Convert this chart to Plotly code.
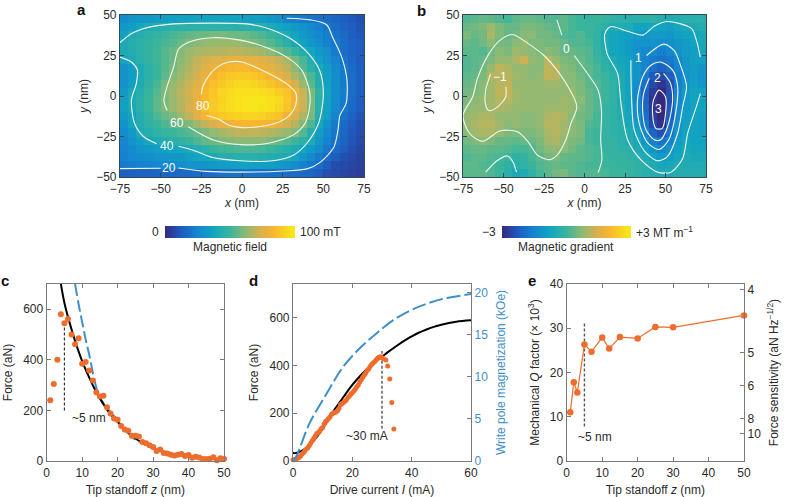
import plotly.graph_objects as go

W, H = 788, 497
TXT = "#2b2a2a"
FONT = "Liberation Sans"
ORANGE = "#ee6c2c"
BLUE = "#3f8fc9"
FRAME_TOP = "#2f4a55"
FRAME_BOT = "#7a7a7a"

PARULA = [[0, "#35297f"], [.125, "#1f5bbf"], [.25, "#1585d0"], [.375, "#12a5c0"], [.5, "#3ab59b"],
          [.625, "#8fba74"], [.74, "#dcb04c"], [.83, "#f9b530"], [.93, "#f8d820"], [1, "#f9ea1a"]]

grid_x = [-72.5, -67.5, -62.5, -57.5, -52.5, -47.5, -42.5, -37.5, -32.5, -27.5, -22.5, -17.5, -12.5, -7.5, -2.5,
          2.5, 7.5, 12.5, 17.5, 22.5, 27.5, 32.5, 37.5, 42.5, 47.5, 52.5, 57.5, 62.5, 67.5, 72.5]
grid_y = [47.5, 42.5, 37.5, 32.5, 27.5, 22.5, 17.5, 12.5, 7.5, 2.5, -2.5, -7.5, -12.5, -17.5, -22.5, -27.5, -32.5,
          -37.5, -42.5, -47.5]

field_mT = [
    [28, 30, 32, 33, 34, 35, 35, 36, 36, 37, 37, 37, 37, 37, 37, 36, 35, 34, 32, 30, 25, 23, 21, 20, 19, 18, 16, 14, 12, 10],
    [32, 34, 38, 41, 43, 44, 45, 46, 46, 46, 46, 46, 46, 46, 45, 45, 44, 43, 41, 38, 36, 33, 30, 27, 24, 21, 18, 15, 13, 11],
    [36, 41, 44, 46, 48, 50, 52, 54, 56, 57, 58, 59, 59, 58, 58, 57, 55, 53, 50, 46, 41, 37, 33, 29, 26, 23, 20, 17, 14, 12],
    [41, 44, 46, 48, 50, 52, 54, 57, 60, 62, 63, 64, 64, 64, 64, 62, 60, 57, 54, 50, 45, 40, 36, 32, 28, 24, 21, 18, 15, 13],
    [41, 43, 46, 48, 51, 54, 57, 61, 64, 66, 67, 68, 68, 69, 69, 68, 67, 65, 62, 58, 54, 49, 43, 38, 33, 29, 22, 18, 15, 13],
    [37, 41, 45, 48, 51, 54, 58, 62, 66, 70, 73, 75, 76, 77, 78, 78, 77, 76, 73, 70, 66, 59, 52, 43, 36, 31, 25, 20, 16, 13],
    [30, 34, 41, 46, 50, 54, 59, 63, 67, 71, 75, 79, 81, 83, 84, 84, 82, 79, 77, 73, 69, 62, 54, 46, 40, 34, 27, 21, 17, 14],
    [30, 34, 41, 46, 50, 55, 61, 65, 69, 73, 78, 83, 86, 88, 89, 89, 88, 85, 82, 78, 73, 67, 61, 53, 43, 35, 28, 22, 18, 14],
    [30, 35, 42, 47, 52, 59, 63, 67, 71, 76, 81, 86, 89, 91, 93, 93, 92, 90, 87, 84, 81, 73, 64, 55, 44, 36, 28, 22, 18, 14],
    [33, 40, 44, 49, 54, 60, 65, 69, 73, 78, 84, 88, 92, 94, 96, 96, 96, 95, 93, 90, 87, 81, 71, 60, 47, 37, 28, 23, 18, 14],
    [36, 41, 45, 50, 55, 60, 64, 68, 72, 78, 84, 88, 91, 95, 97, 98, 98, 98, 97, 93, 88, 81, 72, 60, 45, 36, 28, 22, 17, 13],
    [36, 40, 45, 50, 55, 60, 64, 68, 73, 78, 85, 89, 92, 95, 97, 98, 98, 97, 96, 92, 87, 80, 71, 60, 45, 36, 27, 21, 17, 13],
    [33, 37, 43, 48, 53, 57, 60, 65, 70, 76, 82, 86, 88, 90, 91, 92, 92, 91, 89, 86, 80, 74, 67, 59, 43, 34, 25, 19, 15, 11],
    [30, 38, 43, 47, 50, 53, 56, 58, 60, 65, 70, 74, 77, 80, 82, 83, 83, 82, 81, 77, 73, 68, 61, 53, 40, 30, 22, 17, 13, 10],
    [28, 33, 41, 44, 47, 49, 50, 52, 54, 57, 60, 63, 66, 68, 70, 70, 70, 69, 68, 66, 64, 61, 54, 44, 34, 27, 21, 16, 12, 9],
    [26, 30, 35, 39, 42, 44, 45, 47, 50, 53, 56, 58, 60, 61, 62, 62, 62, 62, 60, 57, 54, 50, 46, 41, 32, 25, 20, 15, 11, 8],
    [25, 28, 31, 33, 35, 36, 37, 38, 40, 43, 46, 49, 51, 52, 53, 53, 53, 52, 50, 48, 45, 42, 38, 33, 28, 21, 17, 13, 10, 7],
    [24, 26, 28, 29, 30, 31, 32, 33, 35, 37, 38, 40, 43, 44, 45, 45, 45, 44, 43, 42, 41, 37, 32, 27, 22, 17, 13, 10, 8, 6],
    [22, 23, 24, 25, 26, 27, 28, 29, 30, 31, 32, 33, 34, 35, 36, 36, 36, 35, 34, 33, 31, 27, 24, 21, 18, 13, 9, 8, 7, 6],
    [14, 14, 15, 15, 16, 16, 16, 17, 17, 18, 18, 18, 19, 19, 19, 19, 19, 19, 19, 19, 18, 18, 17, 16, 13, 10, 8, 7, 6, 5],
]

gradient_tenths = [
    [2, 3, 4, 3, 2, 1, 3, 4, 4, 3, 2, 2, 3, 1, 0, -1, 0, -1, -2, -3, -3, -3, -3, -2, -4, -5, -4, -3, -3, -3],
    [4, 5, 6, 9, 6, 4, 4, 6, 6, 5, 4, 3, 3, 1, 0, 0, -1, -3, -5, -5, -5, -8, -8, -7, -8, -9, -7, -6, -5, -4],
    [6, 4, 5, 10, 6, 4, 5, 7, 7, 5, 5, 4, 2, 1, 2, 0, -2, -5, -7, -8, -9, -10, -11, -10, -10, -11, -9, -8, -7, -6],
    [4, 3, 5, 7, 5, 5, 7, 8, 6, 6, 5, 5, 4, 2, 2, 1, -2, -5, -7, -8, -10, -12, -12, -12, -13, -13, -11, -10, -8, -6],
    [3, 3, 2, 5, 7, 6, 9, 8, 7, 6, 7, 6, 4, 4, 3, 2, -1, -4, -7, -8, -10, -12, -14, -14, -16, -14, -12, -10, -9, -7],
    [2, 3, 4, 6, 8, 8, 10, 13, 8, 7, 11, 8, 6, 5, 4, 2, 0, -3, -5, -7, -9, -12, -15, -17, -18, -17, -14, -11, -9, -9],
    [2, 3, 5, 8, 12, 10, 8, 8, 7, 7, 12, 11, 7, 6, 4, 3, 1, -2, -4, -6, -8, -11, -15, -19, -21, -19, -15, -11, -10, -11],
    [3, 4, 6, 11, 11, 11, 9, 8, 7, 8, 12, 11, 7, 7, 5, 3, 1, 0, -3, -5, -8, -11, -17, -23, -25, -22, -16, -12, -10, -12],
    [4, 5, 7, 9, 11, 12, 8, 8, 8, 8, 9, 9, 8, 7, 6, 3, 2, 0, -2, -5, -8, -13, -19, -25, -28, -24, -16, -11, -9, -11],
    [5, 6, 7, 9, 12, 12, 9, 8, 8, 8, 8, 8, 8, 8, 6, 4, 2, 0, -2, -5, -8, -14, -21, -27, -30, -24, -15, -10, -8, -8],
    [6, 7, 8, 9, 11, 11, 9, 8, 8, 8, 8, 8, 9, 8, 7, 4, 2, 0, -2, -5, -8, -14, -21, -28, -30, -24, -14, -10, -8, -8],
    [7, 8, 8, 9, 10, 9, 8, 8, 8, 8, 9, 9, 9, 8, 6, 4, 2, -1, -2, -4, -8, -13, -20, -28, -30, -23, -14, -10, -8, -8],
    [8, 9, 10, 10, 8, 8, 8, 7, 7, 8, 10, 11, 10, 7, 5, 4, 1, -1, -2, -4, -7, -12, -19, -27, -30, -22, -13, -9, -8, -9],
    [8, 10, 11, 11, 9, 7, 8, 7, 7, 8, 11, 11, 9, 7, 6, 2, 1, -1, -2, -3, -6, -10, -17, -25, -29, -20, -12, -8, -8, -9],
    [7, 9, 10, 10, 8, 6, 6, 6, 6, 7, 10, 11, 9, 7, 6, 1, 0, -1, -2, -3, -5, -8, -14, -21, -24, -18, -11, -8, -8, -9],
    [5, 6, 7, 6, 4, 4, 3, 4, 4, 6, 9, 10, 8, 6, 5, 1, 0, -1, -1, -3, -4, -6, -11, -16, -18, -15, -10, -7, -8, -8],
    [3, 4, 4, 3, 3, 2, 1, 1, 2, 5, 7, 8, 7, 5, 3, 2, 1, -1, -1, -2, -3, -5, -8, -12, -14, -12, -8, -6, -7, -7],
    [2, 3, 3, 2, 1, 0, -2, -1, 1, 3, 5, 6, 4, 3, 3, 2, 1, 0, -1, -1, -2, -3, -5, -8, -10, -9, -7, -5, -6, -6],
    [3, 3, 2, 1, 0, -2, -3, -2, 0, 2, 3, 4, 3, 3, 2, 1, 1, 0, 0, -1, -1, -2, -3, -5, -7, -6, -5, -5, -5, -5],
    [3, 3, 3, 2, 0, -3, -6, -5, -2, 1, 3, 5, 6, 3, 2, 2, 2, 1, 0, 0, -1, -2, -3, -4, -5, -5, -4, -4, -4, -4],
]

contours_a = [
    [(-25, 1), (-24, 6), (-20, 13), (-15, 18), (-8, 21), (0, 21), (10, 17), (20, 12), (28, 7), (33, 2), (33.5, -3), (32, -8), (28, -13), (20, -17), (10, -19), (0, -19.5), (-8, -18), (-15, -14), (-22, -12)],
    [(-46, -9), (-48, -3), (-46, 6), (-42, 18), (-39, 29), (-32, 33.5), (-18, 36), (-1, 34.5), (15, 30), (27.5, 24), (36.7, 16), (41.4, 3.6), (41.8, -4.6), (38.7, -17), (31.6, -24), (17, -29), (-1, -30), (-18, -27), (-33, -19)],
    [(-75, 33), (-67, 39), (-57, 42.5), (-42, 44.5), (-18, 45), (3, 44.5), (15, 42), (29.5, 35.6), (41, 26), (48, 15), (50, 0), (47, -17), (40, -29), (31.5, -36.6), (19, -40), (-1, -40), (-18, -38), (-30, -33.5), (-39, -31)],
    [(-52.5, -29.4), (-60.6, -25), (-66, -17), (-68, -2.6), (-65, 7.7), (-64.3, 16), (-68, 21), (-75, 24)],
    [(-75, -44.8), (-50, -44.6)],
    [(-39, -44.4), (-22, -46.5), (-1, -47), (25.5, -46.3), (40, -45), (48, -41), (56.5, -31.5), (59, -21), (60.2, -12), (64, -4.6), (64.5, 10), (61.3, 24), (56, 35.6), (52, 44), (42, 47), (27.5, 48)],
]
contours_b = [
    [(-17, 47), (-14, 37.6)],
    [(-6.4, 25), (4, 10.8), (8.4, 3.6), (10.5, -8.8), (10, -27), (10.7, -39.6), (8.4, -47.3)],
    [(-75, -12), (-69, -0.5), (-66, 11), (-59, 26), (-52, 34.5), (-44.5, 38), (-35, 32.5), (-25, 25), (-17, 16), (-8.4, 2.6), (-4.7, -6.7), (-8.4, -17), (-11.5, -27), (-17, -36.6), (-22, -39.3), (-29, -36.6), (-35, -28), (-41.4, -22), (-52, -21.5), (-63, -28), (-71, -23), (-75, -12)],
    [(-58, 13.5), (-61, 3.6), (-61, -5.7), (-59, -9), (-54, -7), (-48.6, -0.5), (-48.6, 5.7)],
    [(-61, -47), (-54, -40), (-47.6, -37), (-44, -41), (-42, -47)],
    [(71.5, 24), (69, 34.6), (66, 41.7), (51, 46), (43, 43), (36, 37.6), (26.6, 40), (16, 42.8), (12.6, 38.7), (14, 26), (20.4, 14), (22.5, -4.6), (26.6, -27), (35, -39.6), (45, -47), (53.4, -47), (60.6, -38.6), (63.7, -23), (69, -6.7), (71.5, 1.5)],
    [(38.3, 25), (49, 32), (55.4, 28), (59.6, 18), (63, 6), (60.6, -6.7), (57.5, -23), (51, -37.6), (45, -40), (37, -34), (30.7, -21), (29, -0.5), (28.6, 22)],
    [(47, 21), (54.4, 16), (57.5, 6), (56.5, -9), (52, -27), (46, -33), (39, -29), (33.8, -17), (32.7, -2.6), (36, 12), (41, 19), (47, 21)],
    [(48.8, 14), (53, 8), (54.4, -2.6), (51.3, -19), (47, -27), (43, -27), (38, -21), (36, -11), (36.5, 1.5), (40, 11)],
    [(46, 3.6), (50, -0.5), (50, -11), (48, -20), (44, -20), (42, -11), (42.6, -2.6), (46, 3.6)],
]
labels_a = [("80", -24.2, -6), ("60", -40, -16.6), ("40", -46, -31), ("20", -45, -44.5)]
labels_b = [("0", -11, 29), ("1", 33.4, 23.6), ("2", 45, 11), ("3", 45.5, -8), ("−1", -52, 11.5)]

c_z = list(range(1, 51))
c_force = [240, 305, 400, 580, 545, 562, 500, 462, 485, 385, 392, 358, 318, 272, 255, 258, 213, 188, 168, 163, 138, 125, 120, 100, 100,
           97, 75, 70, 62, 55, 40, 45, 32, 30, 25, 22, 25, 28, 20, 24, 13, 17, 14, 8, 8, 9, 15, 3, 11, 8]
c_black_z = [4, 5, 6, 8, 10, 12, 14, 16, 18, 20, 22, 24, 26, 28, 30, 32, 34, 36]
c_black_f = [700, 625, 570, 475, 395, 330, 272, 225, 185, 155, 125, 100, 80, 65, 50, 40, 32, 26]
c_blue_z = [8, 9, 10, 11, 12, 13, 14, 15, 20, 23, 26]
c_blue_f = [700, 620, 550, 480, 420, 350, 290, 250, 160, 110, 72]

d_i = [0, .5, 1, 1.5, 2, 2.5, 3, 3.5, 4, 4.5, 5, 5.5, 6, 6.5, 7, 7.5, 8, 8.5, 9, 9.5, 10, 10.5, 11, 11.5, 12, 12.5, 13, 13.5, 14, 14.5,
       15, 15.5, 16, 16.5, 17, 17.5, 18, 18.5, 19, 19.5, 20, 20.5, 21, 21.5, 22, 22.5, 23, 23.5, 24, 24.5, 25, 25.5, 26, 26.5, 27, 27.5,
       28, 28.5, 29, 29.5, 30, 30.5, 31.3, 31.9, 32.6, 33.3, 34]
d_force = [5, 5, 8, 12, 15, 20, 28, 35, 42, 50, 55, 65, 75, 85, 95, 105, 115, 118, 125, 135, 140, 155, 165, 170, 178, 185, 195, 200, 203, 205,
           210, 220, 235, 240, 245, 250, 255, 265, 272, 280, 285, 293, 300, 310, 318, 330, 340, 350, 360, 368, 378, 385, 395, 403, 410, 415,
           422, 430, 434, 436, 432, 428, 422, 397, 343, 245, 134]
d_black_i = [0, 1, 2, 3, 4, 5, 6, 8, 10, 12, 14, 16, 18, 20, 22, 24, 26, 28, 30, 32, 35, 38, 40, 42, 45, 48, 50, 55, 60]
d_black_f = [33, 33, 37, 43, 50, 60, 72, 100, 135, 175, 215, 250, 285, 318, 347, 373, 397, 418, 436, 455, 482, 506, 521, 534, 550, 563, 570, 582, 588]
d_blue_i = [0, 1.1, 2.25, 5.6, 11.3, 16.9, 22.5, 28.2, 33.8, 39.5, 45, 50.7, 60]
d_blue_m = [0, .5, 1.5, 4.5, 8, 11.2, 13.4, 15.2, 16.75, 17.9, 18.7, 19.3, 19.85]

e_z = [1, 2, 3, 5, 7, 10, 12, 15, 20, 25, 30, 50]
e_q = [11, 17.8, 15.5, 26.3, 24.7, 27.9, 25.4, 28, 27.7, 30.3, 30.2, 32.9]
e_sens_q = [38.7, 24.5, 17.0, 9.6, 6.2]
e_sens_labels = ["4", "5", "6", "8", "10"]


def hd(x0, x1):
    return [x0 / W, x1 / W]


def vd(y0, y1):
    return [1 - y1 / H, 1 - y0 / H]


fig = go.Figure()
font = dict(family=FONT, size=12, color=TXT)


def axis(dom, anchor, rng, color, title=None, standoff=4, **kw):
    d = dict(domain=dom, anchor=anchor, range=rng, showgrid=False, zeroline=False, showline=True, linecolor=color,
             linewidth=1.2, ticks="inside", ticklen=4, tickcolor=color, tickfont=font, mirror="ticks")
    if title:
        d["title"] = dict(text=title, font=font, standoff=standoff)
    d.update(kw)
    return d


fig.add_trace(go.Heatmap(x=grid_x, y=grid_y, z=field_mT, zmin=0, zmax=100, colorscale=PARULA, xaxis="x", yaxis="y",
                         colorbar=dict(orientation="h", x=165 / W, xanchor="left", y=1 - 238 / H, yanchor="bottom",
                                       len=130 / W, lenmode="fraction", thickness=12, thicknessmode="pixels",
                                       outlinewidth=0, ticks="", showticklabels=False, xpad=0, ypad=0)))
fig.add_trace(go.Heatmap(x=grid_x, y=grid_y, z=gradient_tenths, zmin=-30, zmax=30, colorscale=PARULA, xaxis="x2", yaxis="y2",
                         colorbar=dict(orientation="h", x=502 / W, xanchor="left", y=1 - 238 / H, yanchor="bottom",
                                       len=129 / W, lenmode="fraction", thickness=12, thicknessmode="pixels",
                                       outlinewidth=0, ticks="", showticklabels=False, xpad=0, ypad=0)))
for lines, xa, ya in ((contours_a, "x", "y"), (contours_b, "x2", "y2")):
    for ln in lines:
        fig.add_trace(go.Scatter(x=[p[0] for p in ln], y=[p[1] for p in ln], mode="lines", xaxis=xa, yaxis=ya,
                                 line=dict(color="#f2f8ee", width=1.1, shape="spline", smoothing=0.8), hoverinfo="skip"))

fig.add_trace(go.Scatter(x=c_blue_z, y=c_blue_f, mode="lines", xaxis="x3", yaxis="y3",
                         line=dict(color=BLUE, width=2, dash="12px,4px", shape="spline")))
fig.add_trace(go.Scatter(x=c_black_z, y=c_black_f, mode="lines", xaxis="x3", yaxis="y3",
                         line=dict(color="black", width=2, shape="spline")))
fig.add_trace(go.Scatter(x=[5, 5], y=[200, 545], mode="lines", xaxis="x3", yaxis="y3",
                         line=dict(color="#333", width=1.2, dash="3px,2px")))
fig.add_trace(go.Scatter(x=c_z, y=c_force, mode="markers", xaxis="x3", yaxis="y3",
                         marker=dict(color=ORANGE, size=6), cliponaxis=False))

fig.add_trace(go.Scatter(x=d_blue_i, y=d_blue_m, mode="lines", xaxis="x4", yaxis="y5",
                         line=dict(color=BLUE, width=2, dash="14px,4px", shape="spline")))
fig.add_trace(go.Scatter(x=d_black_i, y=d_black_f, mode="lines", xaxis="x4", yaxis="y4",
                         line=dict(color="black", width=2, shape="spline")))
fig.add_trace(go.Scatter(x=[30, 30], y=[135, 460], mode="lines", xaxis="x4", yaxis="y4",
                         line=dict(color="#555", width=1.4, dash="3px,2px")))
fig.add_trace(go.Scatter(x=d_i, y=d_force, mode="markers", xaxis="x4", yaxis="y4",
                         marker=dict(color=ORANGE, size=5), cliponaxis=False))

fig.add_trace(go.Scatter(x=[5, 5], y=[7.8, 31.3], mode="lines", xaxis="x6", yaxis="y6",
                         line=dict(color="#555", width=1.4, dash="3px,2px")))
fig.add_trace(go.Scatter(x=e_z, y=e_q, mode="lines+markers", xaxis="x6", yaxis="y6",
                         line=dict(color=ORANGE, width=1.2), marker=dict(color=ORANGE, size=6.5), cliponaxis=False))
fig.add_trace(go.Scatter(x=e_z, y=e_q, mode="none", xaxis="x6", yaxis="y7", showlegend=False, hoverinfo="skip"))

top_a = vd(15, 177)
bot = vd(284, 461)
layout = dict(
    xaxis=axis(hd(120, 364), "y", [-75, 75], FRAME_TOP, "<i>x</i> (nm)", dtick=25),
    yaxis=axis(top_a, "x", [-50, 50], FRAME_TOP, "<i>y</i> (nm)", dtick=25),
    xaxis2=axis(hd(463, 706), "y2", [-75, 75], FRAME_TOP, "<i>x</i> (nm)", dtick=25),
    yaxis2=axis(top_a, "x2", [-50, 50], FRAME_TOP, "<i>y</i> (nm)", dtick=25),
    xaxis3=axis(hd(46.7, 224), "y3", [0, 50], FRAME_BOT, "Tip standoff <i>z</i> (nm)", 7, dtick=10),
    yaxis3=axis(bot, "x3", [0, 700], FRAME_BOT, "Force (aN)", 7, dtick=200),
    xaxis4=axis(hd(293, 471), "y4", [0, 60], FRAME_BOT, "Drive current <i>I</i> (mA)", 7, dtick=20),
    yaxis4=axis(bot, "x4", [0, 740], FRAME_BOT, "Force (aN)", 8, dtick=200, mirror=True),
    yaxis5=axis(bot, "x4", [0, 21.05], FRAME_BOT, "Write pole magnetization (kOe)", 9, overlaying="y4", side="right", dtick=5,
                mirror=False, tickfont=dict(family=FONT, size=12, color=BLUE)),
    xaxis6=axis(hd(566.7, 744), "y6", [0, 50], FRAME_BOT, "Tip standoff <i>z</i> (nm)", 7, dtick=10),
    yaxis6=axis(bot, "x6", [0, 40], FRAME_BOT, "Mechanical <i>Q</i> factor (× 10<sup>3</sup>)", 7, dtick=10, mirror=True),
    yaxis7=axis(bot, "x6", [0, 40], FRAME_BOT, "Force sensitivity (aN Hz<sup>−1/2</sup>)", 9, overlaying="y6", side="right",
                tickmode="array", tickvals=e_sens_q, ticktext=e_sens_labels, mirror=False),
)
layout["yaxis5"]["title"]["font"] = dict(family=FONT, size=12, color=BLUE)

ann = []


def txt(s, x, y, xanchor="center", size=12, color=TXT, xref="paper", yref="paper"):
    if xref == "paper":
        x = x / W
        y = 1 - y / H
    ann.append(dict(text=s, x=x, y=y, xref=xref, yref=yref, xanchor=xanchor, yanchor="middle", showarrow=False,
                    font=dict(family=FONT, size=size, color=color)))


for s, x, y in (("a", 81, 9), ("b", 421, 10), ("c", 5, 280), ("d", 253, 280), ("e", 532, 280)):
    txt(f"<b>{s}</b>", x, y, size=15, xanchor="center", color="#111")
for s, x, y in labels_a:
    txt(s, x, y, color="white", xref="x", yref="y", size=12)
for s, x, y in labels_b:
    txt(s, x, y, color="white", xref="x2", yref="y2", size=12)
txt("0", 161, 232, "right")
txt("100 mT", 298, 232, "left")
txt("Magnetic field", 230, 247)
txt("−3", 498, 232, "right")
txt("+3 MT m<sup>−1</sup>", 634, 232, "left")
txt("Magnetic gradient", 566, 247)
txt("~5 nm", 12, 170, xref="x3", yref="y3")
txt("~30 mA", 24.8, 105, xref="x4", yref="y4")
txt("~5 nm", 8, 5.5, xref="x6", yref="y6")

fig.update_layout(width=W, height=H, margin=dict(l=0, r=0, t=0, b=0, autoexpand=False), autosize=False, showlegend=False,
                  paper_bgcolor="white", plot_bgcolor="white", annotations=ann, font=font, **layout)
fig.write_html("out.html", config={"displayModeBar": False}, post_script="document.body.style.margin='0';")
